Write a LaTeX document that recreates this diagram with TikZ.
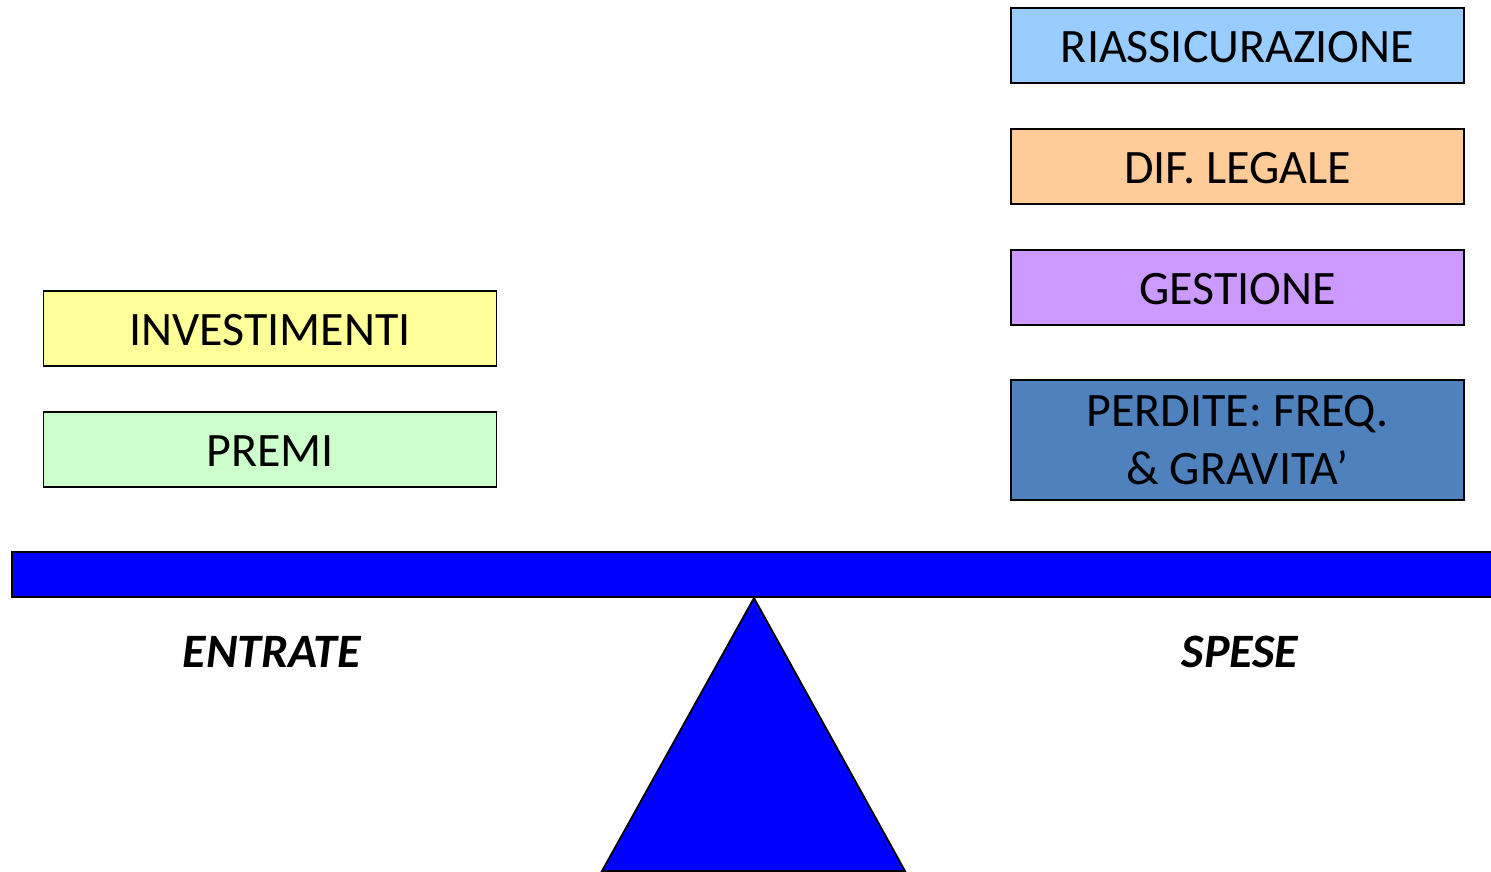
\documentclass[tikz,border=0pt]{standalone}
\usepackage{fontspec}
\setmainfont{Carlito}
\begin{document}
\begin{tikzpicture}[x=1pt,y=-1pt,
  box/.style={draw=black,line width=1.8pt,minimum width=453pt,minimum height=75pt,inner sep=0pt,align=center,font=\fontsize{48}{58}\selectfont},
  one/.style={box,text height=34pt,text depth=0pt},
  lbl/.style={font=\fontsize{48}{52}\selectfont\bfseries\itshape}]
\clip (0,0) rectangle (1491,871);
\useasboundingbox (0,0) rectangle (1491,871);
\definecolor{cyel}{HTML}{FFFF99}
\definecolor{cgrn}{HTML}{CCFFCC}
\definecolor{cblu}{HTML}{99CCFF}
\definecolor{corg}{HTML}{FFCC99}
\definecolor{cvio}{HTML}{CC99FF}
\definecolor{cdark}{HTML}{4F81BD}
\node[one,fill=cyel] (inv) at (270,328.5) {INVESTIMENTI};
\node[one,fill=cgrn] (pre) at (270,449.5) {PREMI};
\node[one,fill=cblu] (ria) at (1237.5,45.5) {RIASSICURAZIONE};
\node[one,fill=corg] (dif) at (1237.5,166.5) {DIF. LEGALE};
\node[one,fill=cvio] (ges) at (1237.5,287.5) {GESTIONE};
\node[box,fill=cdark,minimum height=120pt] (per) at (1237.5,440) {PERDITE: FREQ.\\ \& GRAVITA’};
\draw[fill=blue,line width=1.8pt] (12,552) rectangle (1510,597);
\draw[fill=blue,line width=1.8pt] (754,598) -- (905,871) -- (602,871) -- cycle;
\node[lbl] (ent) at (272,652) {ENTRATE};
\node[lbl] (spe) at (1240,652) {SPESE};
\end{tikzpicture}
\end{document}
